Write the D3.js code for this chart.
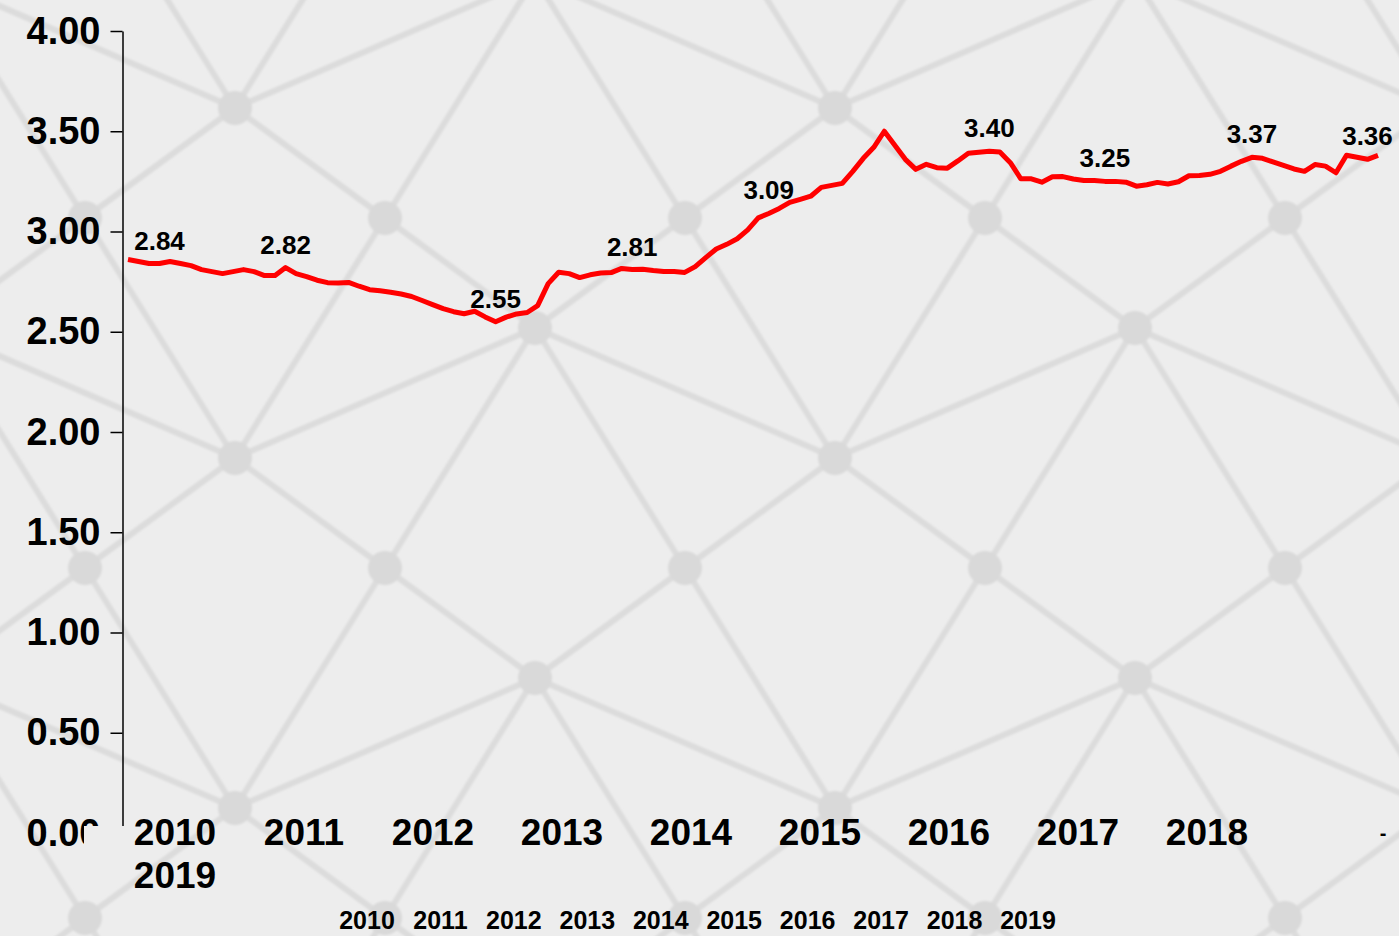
<!DOCTYPE html>
<html>
<head>
<meta charset="utf-8">
<script src="https://cdnjs.cloudflare.com/ajax/libs/d3/7.8.5/d3.min.js"></script>
<style>
  body { margin: 0; background: #ededed; }
  text { font-family: "Liberation Sans", Arial, sans-serif; font-weight: bold; fill: #000; }
</style>
</head>
<body>
<div id="chart"></div>
<script>
// monthly values, Jan 2010 - Dec 2019
var rate = [
  2.86, 2.85, 2.84, 2.84, 2.85, 2.84, 2.83, 2.81, 2.80, 2.79,
  2.80, 2.81, 2.80, 2.78, 2.78, 2.82, 2.79, 2.775, 2.757, 2.745,
  2.743, 2.746, 2.727, 2.71, 2.704, 2.697, 2.688, 2.676, 2.656, 2.635,
  2.615, 2.60, 2.59, 2.602, 2.574, 2.55, 2.573, 2.589, 2.596, 2.63,
  2.74, 2.797, 2.79, 2.77, 2.784, 2.793, 2.795, 2.816, 2.81, 2.812,
  2.805, 2.80, 2.80, 2.796, 2.825, 2.87, 2.913, 2.936, 2.964, 3.008,
  3.068, 3.09, 3.115, 3.145, 3.16, 3.176, 3.22, 3.23, 3.24, 3.30,
  3.365, 3.42, 3.50, 3.43, 3.36, 3.31, 3.335, 3.318, 3.316, 3.352,
  3.39, 3.395, 3.40, 3.396, 3.343, 3.263, 3.263, 3.246, 3.273, 3.274,
  3.262, 3.254, 3.254, 3.25, 3.25, 3.246, 3.226, 3.233, 3.245, 3.237,
  3.248, 3.278, 3.279, 3.285, 3.30, 3.326, 3.35, 3.37, 3.365, 3.347,
  3.33, 3.312, 3.30, 3.334, 3.326, 3.293, 3.38, 3.37, 3.36, 3.38
];
// points that carry a value label
var labelIdx = [3, 15, 35, 48, 61, 82, 93, 107, 118];

var yTicks = [0, 0.5, 1, 1.5, 2, 2.5, 3, 3.5, 4];
var yearLabels = ["2010", "2011", "2012", "2013", "2014", "2015", "2016", "2017", "2018"];
var wrapLabel = "2019";
var bottomYears = ["2010", "2011", "2012", "2013", "2014", "2015", "2016", "2017", "2018", "2019"];

var W = 1399, H = 936;

var svg = d3.select("#chart")
    .append("svg")
    .attr("width", W)
    .attr("height", H);

// background
svg.append("rect")
    .attr("width", W)
    .attr("height", H)
    .attr("fill", "#ededed");

// soft edges for the pattern
var blur = svg.append("filter").attr("id", "soft");
blur.append("feGaussianBlur").attr("stdDeviation", 1);

// network pattern behind the chart
var nodes = [];
for (var k = -1; k <= 3; k++) {
    for (var j = -1; j <= 3; j++) nodes.push([235 + 600 * j, 108 + 350 * k]);
    for (var j = -1; j <= 5; j++) nodes.push([85 + 300 * j, 218 + 350 * k]);
    for (var j = -1; j <= 3; j++) nodes.push([535 + 600 * j, 328 + 350 * k]);
}
var links = [];
nodes.forEach(function(a, i) {
    nodes.forEach(function(b, n) {
        if (n <= i) return;
        var dx = b[0] - a[0], dy = b[1] - a[1];
        if (dx == 0 || dy == 0) return;
        if (Math.sqrt(dx * dx + dy * dy) < 340) links.push([a, b]);
    });
});
var bg = svg.append("g").attr("filter", "url(#soft)");
bg.selectAll("line")
    .data(links)
    .enter()
    .append("line")
    .attr("x1", function(d) { return d[0][0]; })
    .attr("y1", function(d) { return d[0][1]; })
    .attr("x2", function(d) { return d[1][0]; })
    .attr("y2", function(d) { return d[1][1]; })
    .attr("stroke", "#dcdcdc")
    .attr("stroke-width", 6);
bg.selectAll("circle")
    .data(nodes)
    .enter()
    .append("circle")
    .attr("cx", function(d) { return d[0]; })
    .attr("cy", function(d) { return d[1]; })
    .attr("r", 17)
    .attr("fill", "#d9d9d9");

// scales
var x = d3.scaleLinear()
    .domain([0, rate.length - 1])
    .range([128, 1378]);
var y = d3.scaleLinear()
    .domain([0, 4])
    .range([833, 31]);

// clip for the bottom of the y axis (covered in the original)
var clip = svg.append("clipPath").attr("id", "yclip");
clip.append("rect").attr("x", 0).attr("y", 0).attr("width", W).attr("height", 826);
clip.append("rect").attr("x", 0).attr("y", 0).attr("width", 84).attr("height", H);

// Y axis
var yAxis = svg.append("g")
    .attr("clip-path", "url(#yclip)")
    .append("g")
    .attr("transform", "translate(122.5,0)")
    .call(d3.axisLeft(y)
        .tickValues(yTicks)
        .tickFormat(d3.format(".2f"))
        .tickSize(12)
        .tickSizeOuter(0)
        .tickPadding(10));
yAxis.select(".domain").attr("stroke", "#000").attr("stroke-width", 1.5);
yAxis.selectAll(".tick line").attr("stroke", "#000").attr("stroke-width", 1.5);
yAxis.selectAll(".tick text")
    .style("font-size", "38px")
    .style("font-family", "'Liberation Sans', Arial, sans-serif")
    .style("font-weight", "bold")
    .attr("fill", "#000");

// X labels (category axis of the original)
var xBand = d3.scalePoint()
    .domain(yearLabels)
    .range([175, 1207]);
svg.append("g")
    .selectAll("text")
    .data(yearLabels)
    .enter()
    .append("text")
    .attr("x", function(d) { return xBand(d); })
    .attr("y", 845)
    .attr("text-anchor", "middle")
    .style("font-size", "37px")
    .text(function(d) { return d; });
svg.append("text")
    .attr("x", xBand(yearLabels[0]))
    .attr("y", 888)
    .attr("text-anchor", "middle")
    .style("font-size", "37px")
    .text(wrapLabel);
svg.append("text")
    .attr("x", 1383)
    .attr("y", 840)
    .attr("text-anchor", "middle")
    .style("font-size", "20px")
    .text("-");

// second row of years at the bottom
var xBottom = d3.scalePoint()
    .domain(bottomYears)
    .range([367, 1028]);
svg.append("g")
    .selectAll("text")
    .data(bottomYears)
    .enter()
    .append("text")
    .attr("x", function(d) { return xBottom(d); })
    .attr("y", 929)
    .attr("text-anchor", "middle")
    .style("font-size", "25px")
    .text(function(d) { return d; });

// Line
var line = d3.line()
    .x(function(d, i) { return x(i); })
    .y(function(d) { return y(d); });
svg.append("path")
    .datum(rate)
    .attr("d", line)
    .attr("fill", "none")
    .attr("stroke", "#ff0000")
    .attr("stroke-width", 5)
    .attr("stroke-linejoin", "round");

// value labels
svg.append("g")
    .selectAll("text")
    .data(labelIdx)
    .enter()
    .append("text")
    .attr("x", function(i) { return x(i); })
    .attr("y", function(i) { return y(rate[i]) - 14; })
    .attr("text-anchor", "middle")
    .style("font-size", "26px")
    .text(function(i) { return d3.format(".2f")(rate[i]); });
</script>
</body>
</html>
